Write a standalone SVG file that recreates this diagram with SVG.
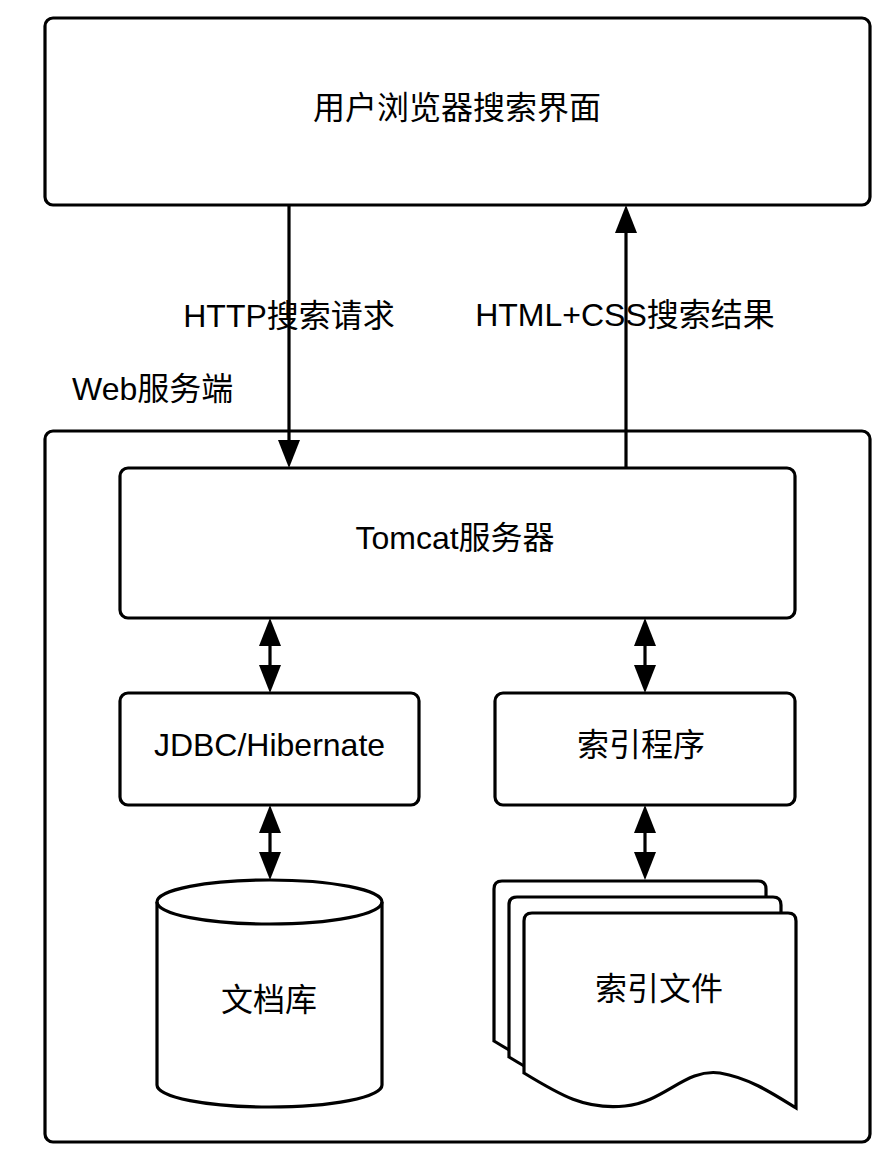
<svg xmlns="http://www.w3.org/2000/svg" width="896" height="1163" viewBox="0 0 896 1163">
<style>
.box{fill:#fff;stroke:#000;stroke-width:3.2}
.ln{fill:none;stroke:#000;stroke-width:3.2}
.t{font-family:"Liberation Sans","Noto Sans CJK SC",sans-serif;font-size:32px;fill:#000}
.c{text-anchor:middle}
</style>
<defs>
<marker id="ah" markerUnits="userSpaceOnUse" markerWidth="30" markerHeight="24" viewBox="0 -12 30 24" refX="0" refY="0" orient="auto-start-reverse">
<path d="M0,-11 L28,0 L0,11 Z" fill="#000"/>
</marker>
<path id="page" d="M524,1073 L524,921 Q524,913 532,913 L788,913 Q796,913 796,921 L796,1108 C775,1095 750,1078 720,1073 C685,1068 665,1102 625,1106 C585,1110 560,1095 524,1073 Z"/>
</defs>
<rect width="896" height="1163" fill="#fff"/>
<g id="browser">
<rect class="box" x="45" y="18" width="825" height="187" rx="8"/>
<text class="t c" x="457" y="119">用户浏览器搜索界面</text>
</g>
<g id="webserver">
<rect class="box" x="45" y="431" width="825" height="711" rx="8"/>
<text class="t" x="72" y="400">Web服务端</text>
</g>
<g id="connectors">
<line class="ln" x1="289" y1="205" x2="289" y2="440" marker-end="url(#ah)"/>
<line class="ln" x1="626" y1="468" x2="626" y2="233" marker-end="url(#ah)"/>
<line class="ln" x1="270" y1="646" x2="270" y2="665" marker-start="url(#ah)" marker-end="url(#ah)"/>
<line class="ln" x1="645" y1="646" x2="645" y2="665" marker-start="url(#ah)" marker-end="url(#ah)"/>
<line class="ln" x1="270" y1="833" x2="270" y2="852" marker-start="url(#ah)" marker-end="url(#ah)"/>
<line class="ln" x1="645" y1="833" x2="645" y2="852" marker-start="url(#ah)" marker-end="url(#ah)"/>
<text class="t c" x="289" y="327">HTTP搜索请求</text>
<text class="t c" x="625" y="326">HTML+CSS搜索结果</text>
</g>
<g id="tomcat">
<rect class="box" x="120" y="468" width="675" height="150" rx="8"/>
<text class="t c" x="455" y="549">Tomcat服务器</text>
</g>
<g id="jdbc">
<rect class="box" x="120" y="693" width="299" height="112" rx="8"/>
<text class="t c" x="269.5" y="756">JDBC/Hibernate</text>
</g>
<g id="indexer">
<rect class="box" x="495" y="693" width="300" height="112" rx="8"/>
<text class="t c" x="641" y="756">索引程序</text>
</g>
<g id="docdb">
<path class="box" d="M157,902 A112.5,22 0 0 1 382,902 L382,1085 A112.5,22 0 0 1 157,1085 Z"/>
<path class="ln" d="M157,902 A112.5,22 0 0 0 382,902"/>
<text class="t c" x="269" y="1011">文档库</text>
</g>
<g id="indexfiles">
<use href="#page" class="box" transform="translate(-30,-32)"/>
<use href="#page" class="box" transform="translate(-15,-16)"/>
<use href="#page" class="box"/>
<text class="t c" x="659" y="1000">索引文件</text>
</g>
</svg>
